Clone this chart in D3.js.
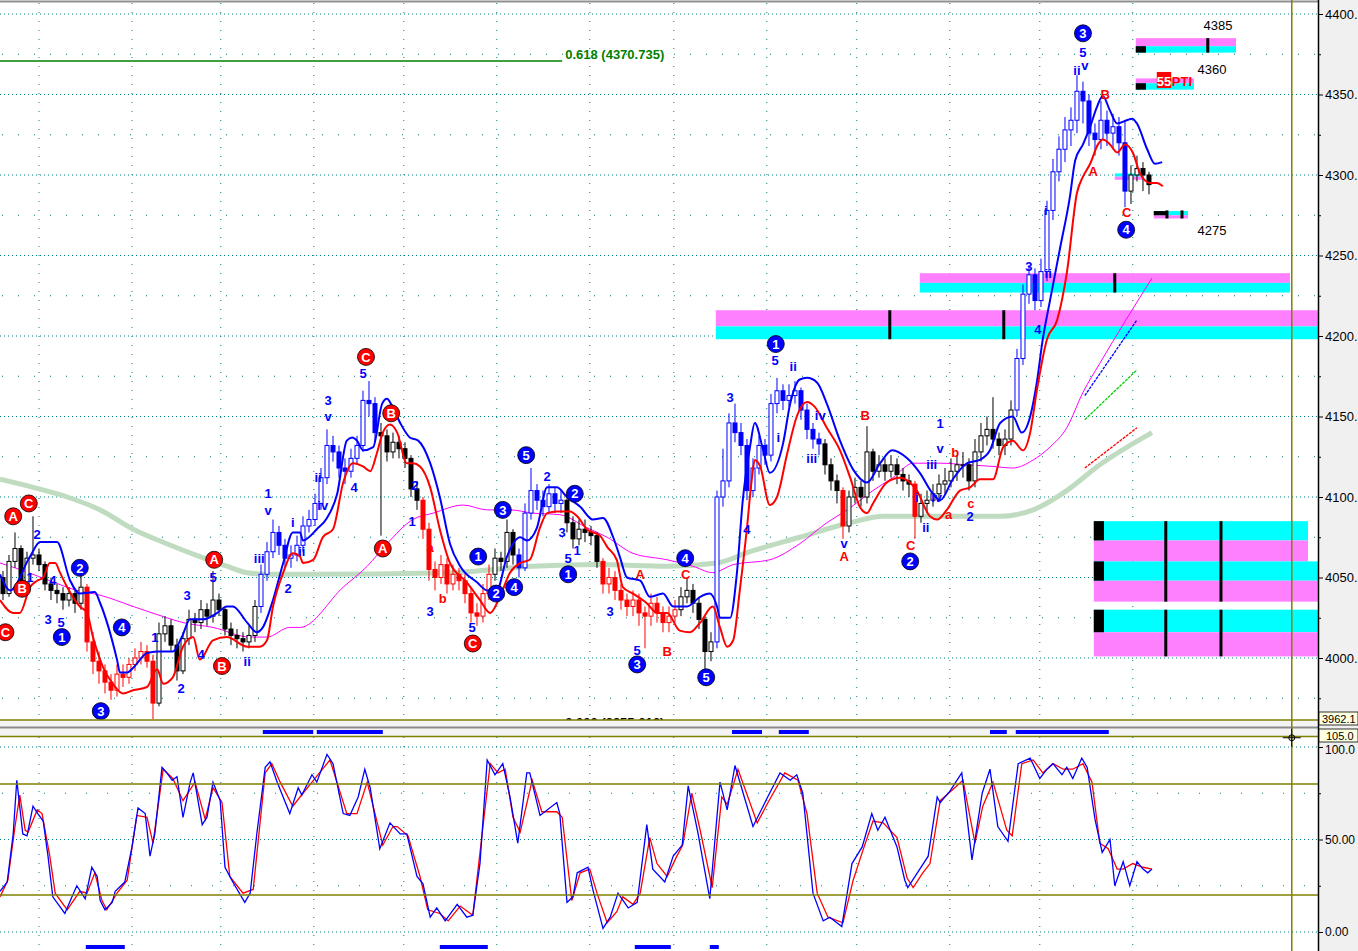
<!DOCTYPE html>
<html>
<head>
<meta charset="UTF-8">
<title>Elliott wave chart</title>
<script src="https://d3js.org/d3.v7.min.js"></script>
<style>
body { margin: 0; background: #fff; }
svg { display: block; font-family: "Liberation Sans", Arial, sans-serif; }
.wave { font-size: 13px; font-weight: bold; }
</style>
</head>
<body>
<svg id="chart" width="1358" height="951"></svg>
<script>

// ---- price bars (one per bar index) ----
const closes = [
 4040,4060,4068,4045,4062,4064,4058,4046,4042,4040,
 4036,4040,4034,4044,4010,3998,3992,3985,3980,3990,
 3988,3996,4000,4004,3998,3972,4015,4020,4008,3992,
 4012,4024,4022,4030,4026,4036,4030,4018,4014,4012,
 4010,4014,4032,4052,4066,4078,4070,4062,4064,4070,
 4082,4086,4096,4112,4132,4128,4118,4116,4124,4132,
 4160,4158,4140,4138,4128,4134,4130,4124,4105,4098,
 4080,4055,4050,4058,4046,4052,4048,4040,4028,4026,
 4040,4052,4062,4060,4078,4064,4056,4090,4104,4098,
 4094,4102,4096,4098,4084,4074,4080,4078,4076,4060,
 4046,4050,4042,4036,4032,4036,4028,4026,4034,4028,
 4022,4026,4030,4038,4042,4034,4024,4004,4010,4100,
 4110,4146,4140,4132,4104,4118,4132,4126,4158,4166,
 4160,4163,4166,4154,4142,4136,4133,4120,4110,4104,
 4082,4100,4106,4100,4128,4116,4120,4116,4120,4114,
 4110,4108,4088,4096,4098,4102,4108,4110,4116,4120,
 4120,4110,4128,4138,4142,4136,4132,4136,4154,4186,
 4226,4238,4222,4240,4278,4302,4316,4328,4334,4352,
 4346,4326,4322,4334,4326,4330,4320,4290,4300,4304,
 4300,4294
];
const opens = [
 4050,4040,4060,4068,4045,4062,4064,4058,4046,4042,
 4040,4036,4040,4034,4044,4010,3998,3992,3985,3980,
 3990,3988,3996,4000,4004,3998,3972,4015,4020,4008,
 3992,4012,4024,4022,4030,4026,4036,4030,4018,4014,
 4012,4010,4014,4032,4052,4066,4078,4070,4062,4064,
 4070,4082,4086,4096,4112,4132,4128,4118,4116,4124,
 4132,4160,4158,4140,4138,4128,4134,4130,4124,4105,
 4098,4080,4055,4050,4058,4046,4052,4048,4040,4028,
 4026,4040,4052,4062,4060,4078,4064,4056,4090,4104,
 4098,4094,4102,4096,4098,4084,4074,4080,4078,4076,
 4060,4046,4050,4042,4036,4032,4036,4028,4026,4034,
 4028,4022,4026,4030,4038,4042,4034,4024,4004,4010,
 4100,4110,4146,4140,4132,4104,4118,4132,4126,4158,
 4166,4160,4163,4166,4154,4142,4136,4133,4120,4110,
 4104,4082,4100,4106,4100,4128,4116,4120,4116,4120,
 4114,4110,4108,4088,4096,4098,4102,4108,4110,4116,
 4120,4120,4110,4128,4138,4142,4136,4132,4136,4154,
 4186,4226,4238,4222,4240,4278,4302,4316,4328,4334,
 4352,4346,4326,4322,4334,4326,4330,4320,4290,4300,
 4304,4300
];
const highs = [
 4054,4064,4078,4070,4066,4088,4068,4060,4050,4046,
 4044,4044,4042,4052,4046,4016,4004,3996,3990,3996,
 3996,4000,4006,4010,4008,4002,4022,4026,4024,4012,
 4016,4030,4028,4036,4034,4054,4040,4032,4022,4018,
 4016,4020,4036,4058,4072,4086,4082,4074,4070,4076,
 4088,4092,4102,4118,4142,4138,4132,4124,4130,4138,
 4166,4172,4162,4146,4142,4140,4138,4134,4126,4110,
 4100,4084,4060,4064,4062,4058,4056,4052,4044,4034,
 4046,4058,4068,4066,4086,4080,4068,4096,4118,4108,
 4104,4108,4106,4104,4100,4088,4086,4086,4082,4078,
 4062,4056,4054,4046,4040,4042,4040,4032,4040,4038,
 4032,4032,4036,4044,4050,4046,4038,4026,4016,4104,
 4130,4152,4158,4146,4136,4124,4138,4136,4164,4174,
 4170,4170,4172,4168,4158,4146,4140,4136,4124,4114,
 4106,4104,4112,4110,4144,4130,4126,4124,4126,4124,
 4118,4114,4110,4102,4104,4108,4114,4118,4124,4126,
 4128,4124,4136,4146,4150,4162,4140,4142,4160,4192,
 4232,4244,4242,4248,4284,4310,4324,4336,4342,4362,
 4358,4350,4332,4346,4340,4338,4336,4334,4306,4312,
 4308,4302
];
const lows = [
 4036,4038,4056,4040,4042,4058,4054,4042,4036,4034,
 4030,4032,4028,4030,4004,3990,3984,3978,3974,3976,
 3982,3984,3992,3996,3994,3962,3970,4010,4004,3986,
 3990,4008,4016,4018,4020,4022,4026,4014,4008,4006,
 4004,4006,4010,4028,4048,4062,4064,4056,4056,4060,
 4066,4078,4082,4092,4108,4122,4112,4108,4112,4120,
 4128,4150,4134,4076,4122,4124,4124,4118,4100,4092,
 4074,4048,4042,4046,4040,4042,4042,4034,4022,4020,
 4022,4036,4048,4054,4056,4058,4050,4054,4086,4092,
 4088,4090,4090,4090,4078,4068,4070,4072,4070,4056,
 4040,4040,4036,4030,4026,4026,4020,4006,4020,4022,
 4016,4016,4022,4026,4034,4028,4018,3990,3998,4006,
 4094,4106,4134,4126,4098,4100,4114,4120,4122,4152,
 4154,4156,4158,4148,4136,4130,4126,4114,4104,4096,
 4074,4078,4096,4094,4096,4110,4112,4110,4112,4108,
 4104,4100,4074,4084,4090,4094,4098,4102,4106,4110,
 4112,4104,4106,4122,4132,4130,4126,4126,4132,4150,
 4182,4220,4216,4218,4234,4272,4296,4308,4318,4326,
 4332,4318,4312,4316,4318,4316,4312,4280,4282,4296,
 4290,4288
];
// wave colouring of the bars: [firstBar, lastBar, colour]; other bars are black
const barColours = [
 [14, 25, "red"], [43, 62, "blue"], [70, 81, "red"], [86, 93, "blue"],
 [100, 112, "red"], [119, 136, "blue"], [140, 140, "red"], [152, 152, "red"],
 [169, 187, "blue"]
];

// ---- overlays: [bar, price] ----
const upperBand = [
 [-0.5,4052],[1.2,4042],[4.5,4063],[6.2,4072],[9,4072],[11.2,4048],[12.8,4040],[15.3,4041],
 [16.2,4034],[19,3999],[19.5,3991],[20.7,3991],[21.7,3994],[24,4003],[25.7,4004],[28.3,4004],
 [29.8,4013],[31.2,4024],[33.3,4024],[35.7,4028],[37.3,4032],[38.3,4032],[40.7,4022],[42.3,4016],
 [43.3,4019],[45,4036],[46.7,4059],[48.3,4078],[49.5,4078],[50,4073],[52.3,4080],[54,4087],
 [55.7,4102],[57.3,4135],[58.2,4137],[59,4135],[60,4129],[61.7,4131],[63.2,4158],[64,4161],
 [64.8,4157],[66.2,4146],[67.8,4137],[69.2,4135],[71.2,4121],[72.8,4100],[74.5,4071],[76.2,4057],
 [79,4047],[80.7,4042],[82.3,4042],[84,4063],[86.2,4075],[87.3,4073],[89,4081],[90.7,4106],
 [92.3,4106],[94,4100],[96.2,4094],[98.3,4086],[100,4087],[101.7,4075],[102.8,4063],[104,4050],
 [106.2,4048],[107.8,4038],[110,4040],[111.7,4032],[114,4032],[116.2,4038],[117.8,4040],[119,4032],
 [119.5,4025],[121.2,4025],[122.3,4052],[123.3,4098],[124.5,4131],[125.3,4146],[126.7,4129],[127.8,4115],
 [130,4133],[131.2,4158],[132.8,4173],[134,4174],[135.7,4171],[137.3,4158],[139.5,4135],[141.7,4117],
 [144,4109],[146.2,4121],[148.2,4129],[150.7,4124],[152.8,4115],[155,4102],[156.2,4098],[158.3,4111],
 [160.7,4121],[162.8,4123],[164.5,4129],[166.2,4146],[168.3,4150],[169.8,4140],[171.2,4150],[172.3,4171],
 [173.3,4198],[174.5,4222],[176.2,4255],[177.8,4286],[178.7,4309],[180,4319],[181.2,4330],[182.3,4342],
 [183.3,4349],[184.5,4340],[185.7,4332],[187.3,4334],[188.2,4335],[189,4332],[190.7,4316],[192,4307],
 [193.2,4308]
];
const lowerBand = [
 [-0.5,4036],[1.7,4028],[2.8,4028],[4.5,4044],[5.7,4048],[6.7,4050],[7.8,4059],[8.7,4059],
 [9.5,4053],[10.7,4044],[12.8,4032],[14,4028],[15,4013],[16.7,3994],[18.3,3984],[20,3978],
 [21.7,3980],[24,3982],[25.7,3993],[26.7,3984],[28.3,3988],[30,4007],[31.7,4013],[32.8,3999],
 [35,4011],[37.3,4013],[40.7,4007],[42.8,4007],[44,4011],[45,4032],[46.7,4053],[48.3,4065],
 [49.5,4063],[50,4059],[51.7,4061],[53.3,4075],[55,4080],[56.7,4109],[58.3,4121],[60,4119],
 [61.2,4116],[62.3,4127],[63.3,4140],[64.5,4145],[65.7,4140],[67.3,4121],[68.3,4121],[69.5,4119],
 [71.2,4106],[72.8,4080],[74.5,4059],[77.3,4047],[79.5,4036],[81.2,4028],[82.8,4038],[84.5,4053],
 [86.2,4059],[87.8,4061],[89.5,4081],[90.7,4090],[92.3,4091],[94.5,4091],[95.7,4088],[97.3,4080],
 [99.5,4076],[100.7,4069],[102.3,4061],[103.3,4044],[105,4040],[107.3,4034],[109,4028],[110.7,4028],
 [112.8,4017],[114.5,4016],[116.2,4022],[118.3,4032],[119.5,4019],[120.7,4007],[121.7,4011],[122.8,4042],
 [124,4081],[124.8,4111],[125.3,4123],[126.2,4119],[127.8,4095],[129,4100],[130.7,4127],[132.3,4150],
 [134,4159],[135.3,4156],[137.3,4143],[139.5,4129],[141.2,4112],[142.8,4094],[144,4090],[145,4096],
 [147.3,4109],[149.5,4112],[152.3,4104],[154.5,4088],[155.7,4086],[157.3,4092],[159.5,4104],[161.2,4106],
 [162.8,4111],[165,4111],[166.7,4131],[168.3,4135],[170,4129],[171.2,4140],[172.3,4166],[174,4198],
 [175.7,4210],[177.3,4239],[179,4289],[180,4299],[181.2,4307],[182.5,4319],[183.3,4322],[184.5,4319],
 [185.7,4314],[187,4319],[188.3,4314],[189.5,4301],[191.2,4295],[192.3,4295],[193.3,4293]
];
const magentaMA = [
 [-0.5,4059],[2.8,4055],[7.8,4048],[12.3,4042],[16.2,4039],[21.7,4032],[27.3,4025],[30,4022],
 [35,4019],[41.2,4013],[44,4013],[47.8,4019],[49.5,4019],[56.7,4044],[60.7,4057],[64,4071],
 [68.3,4086],[71.7,4090],[76.7,4095],[80.7,4092],[84.5,4092],[88.3,4090],[92.8,4089],[97.3,4081],
 [100.7,4075],[105,4065],[110.7,4061],[115,4057],[118.3,4053],[121.7,4058],[127.8,4061],[132.8,4071],
 [137.3,4084],[140.7,4092],[145,4104],[148.3,4112],[151.7,4121],[156.2,4121],[160.7,4120],[165,4119],
 [168.3,4118],[171.7,4123],[174.5,4131],[177.3,4143],[180,4165],[182.8,4183],[191.5,4236]
];
const greenMA = [
 [-0.5,4111],[5,4106],[10.7,4100],[16.2,4092],[21.7,4080],[27.3,4071],[32.8,4063],[37.3,4057],
 [40.7,4053],[44,4052],[49.5,4052],[74.5,4053],[88.3,4057],[99.5,4058],[110.7,4057],[119,4059],
 [124.5,4066],[132.8,4075],[141.2,4084],[146.7,4088],[155,4088],[166.2,4088],[171.7,4092],[177.3,4104],
 [182.8,4120],[191.5,4140]
];
const projBlue = [[180.3,4163],[189,4210]];
const projGreen = [[180.3,4148],[189,4179]];
const projRed = [[180.3,4118],[189,4143]];

// ---- stochastic %K (blue) and %D (red): [bar, value] ----
const stochK = [
 [-0.5,22],[0.7,27],[1.7,53],[2.3,82],[3.3,53],[4,52],[5,68],[5.8,64],[6.7,60],[7.5,41],[8.3,19],
 [10.3,10],[11.5,19],[12.3,25],[13.7,18],[14.8,35],[15.7,30],[16.2,17],[17,12],[18.2,16],[18.7,22],
 [20.3,27],[21.5,46],[22.5,67],[23.7,64],[24.5,41],[25.3,53],[26.5,89],[27.3,86],[28.2,82],[29,84],
 [30,62],[31.2,81],[31.7,86],[33.2,58],[34,62],[35,81],[36.2,71],[37,35],[38.3,27],[40.3,16],
 [41.2,21],[42.3,53],[43.7,89],[44.5,92],[45.7,81],[47.8,64],[49.2,78],[49.8,74],[51.5,85],[52.3,81],
 [54,96],[55,91],[56.7,64],[57.8,63],[59.2,73],[60.3,88],[61.2,78],[62.8,45],[64.5,59],[66.2,53],
 [67.3,53],[69,30],[70,26],[71.2,8],[72.3,13],[73.7,6],[75.7,15],[77.3,8],[78.3,9],[79.5,37],
 [80.7,93],[82,85],[83.3,91],[84.5,73],[85.8,48],[87.3,86],[87.8,86],[89.5,63],[92.3,70],[92.8,64],
 [94,16],[95,19],[95.7,32],[97.5,35],[98.3,23],[100,2],[101.2,8],[102.5,21],[104.2,13],[105.7,16],
 [107.3,58],[108.3,34],[110.3,27],[111.7,41],[113.2,47],[114.2,79],[115.8,54],[117.8,18],[119.5,81],
 [120.7,66],[122,90],[125,57],[127.3,72],[129.5,86],[131.2,82],[132.3,85],[133.3,75],[135,21],
 [136.7,6],[137.8,8],[139.8,3],[141.5,37],[143.2,46],[144.8,64],[145.8,55],[147,62],[149,46],
 [150.3,28],[150.8,24],[152.8,34],[154.2,41],[155.7,73],[156.2,70],[157.8,76],[159.8,86],[161.5,39],
 [163.2,75],[164.5,88],[165.8,57],[167.5,49],[169.2,91],[171.2,94],[172.8,83],[174,88],[175,91],
 [176.5,85],[177.3,89],[178.3,83],[179.8,94],[180.7,89],[182,61],[183.2,43],[184.5,50],[185.3,25],
 [186.7,38],[187.8,25],[189,38],[190,34],[190.8,32],[191.5,34]
];
const stochD = [
 [-0.5,19],[0.8,28],[2,57],[2.8,74],[3.7,55],[4.2,54],[5.7,66],[6.5,64],[7.8,41],[8.7,21],
 [10.7,12],[12.8,22],[14,21],[15.3,32],[16.5,17],[17.3,12],[19,21],[20.7,28],[22.3,63],[24,62],
 [25,48],[26.7,88],[28.3,83],[30,71],[32,81],[33.7,61],[35,78],[36.5,70],[37.8,30],[40,21],
 [41.7,23],[43.7,86],[44.8,91],[46.2,81],[48.3,68],[50,75],[52,83],[54.5,93],[57.3,64],[59,64],
 [60.7,81],[63.3,47],[65,57],[65.7,57],[67.5,52],[69.5,30],[70.8,12],[72.8,10],[74.2,6],[76.2,14],
 [78.3,9],[80,57],[81.2,91],[82.5,86],[83.7,88],[85,62],[86.2,54],[88.2,82],[89.8,65],[92.3,65],
 [93.2,62],[94.8,17],[96.2,32],[97.8,34],[99,21],[100.7,5],[102.3,11],[103.3,19],[105,15],[106.2,21],
 [107.8,51],[109,37],[110.7,30],[112.3,41],[113.3,47],[114.8,75],[116.2,55],[118.2,24],[119.8,73],
 [120.7,69],[122.5,88],[125.7,59],[127.5,70],[130.3,86],[132.5,82],[134,64],[135.7,21],[137.5,8],
 [140,5],[141.7,28],[143.3,44],[145,60],[146.7,59],[149,51],[150.7,29],[151.7,24],[153.3,32],
 [154.5,37],[156.2,71],[158.3,77],[160,82],[162,48],[163.3,68],[165,81],[167.3,55],[168.2,52],
 [169.8,91],[171.7,93],[173.3,86],[175,91],[176.7,88],[178.3,88],[180,91],[181.5,81],[182.8,48],
 [184.2,45],[185.7,34],[186.7,34],[188.3,37],[190,35],[191.5,34]
];
// blue signal strips: [fromBar, toBar]
const signalTop = [[43.3,51.7],[52.3,63.3],[121.5,126.5],[129.3,134.3],[164.5,167.3],[168.8,184.3]];
const signalBottom = [[13.8,20.3],[72.8,80.8],[105.3,111.3],[117.8,119.3]];

// ---- target zones: [fromBar, toBar, topPrice, bottomPrice, fill] ----
const zoneRects = [
 [152.8,214.5,4239,4233,"#ff80ff"],[152.8,214.5,4233,4227,"#00ffff"],
 [118.8,219.2,4216,4206,"#ff80ff"],[118.8,219.2,4206,4198,"#00ffff"],
 [181.8,217.5,4085,4073,"#00ffff"],[181.8,217.5,4073,4060,"#ff80ff"],
 [181.8,219.2,4060,4048,"#00ffff"],[181.8,219.2,4048,4035,"#ff80ff"],
 [181.8,219.2,4030,4016,"#00ffff"],[181.8,219.2,4016,4001,"#ff80ff"],
 [188.8,205.5,4385,4380,"#ff80ff"],[188.8,205.5,4380,4376,"#00ffff"],
 [188.8,198.5,4360,4357,"#ff80ff"],[188.8,198.5,4357,4353,"#00ffff"],
 [191.8,197.5,4277.6,4275,"#00ffff"],[191.8,197.5,4275,4273,"#ff80ff"],
 [185.3,190,4301,4299,"#00ffff"],[185.3,190,4299,4297,"#ff80ff"]
];
const zoneBlocks = [
 [181.8,183.5,4085,4073],[181.8,183.5,4060,4048],[181.8,183.5,4030,4016],
 [188.8,190.5,4380,4376],[188.8,190.5,4357,4353],[191.8,194,4277.6,4275]
];
// [bar, topPrice, bottomPrice]
const zoneTicks = [
 [185.3,4239,4227],[147.8,4216,4198],[166.8,4216,4198],
 [193.8,4085,4035],[203,4085,4035],[193.8,4030,4001],[203,4030,4001],
 [200.8,4385,4376],[194,4278,4273],[196.5,4278,4273]
];
// [bar, price, text]
const zoneLabels = [[202.5,4390,"4385"],[201.5,4363,"4360"],[201.5,4263,"4275"]];

// ---- wave labels: [bar, price, text] ----
const redCircles = [
 [0.4,4016,"C"],[3.2,4043,"B"],[1.7,4088,"A"],[4.3,4096,"C"],[35.2,4061,"A"],[36.5,3995,"B"],
 [60.5,4187,"C"],[64.7,4152,"B"],[63.3,4068,"A"],[78.3,4009,"C"]
];
const blueCircles = [
 [9.8,4013,"1"],[12.8,4056,"2"],[16.3,3967,"3"],[19.8,4019,"4"],[24.7,3955,"5"],
 [79.2,4063,"1"],[82.2,4040,"2"],[83.3,4092,"3"],[85.2,4044,"4"],[87.2,4126,"5"],
 [95.3,4102,"2"],[94.2,4052,"1"],[105.7,3996,"3"],[113.7,4062,"4"],[117.2,3988,"5"],
 [128.8,4195,"1"],[151.2,4060,"2"],[180,4388,"3"],[187.2,4266,"4"]
];
const blueTexts = [
 [5.7,4077,"2"],[4.5,4050,"1"],[7.5,4024,"3"],[9.7,4022,"5"],[8.3,4048,"4"],[25.3,4013,"1"],
 [29.7,3981,"2"],[30.7,4039,"3"],[35,4050,"5"],[33,4002,"4"],[40.7,3998,"ii"],[42.7,4062,"iii"],
 [44.2,4092,"v"],[44.2,4102,"1"],[47.5,4043,"2"],[48.3,4084,"i"],[49.8,4066,"ii"],[52.5,4112,"ii"],
 [53.3,4095,"iv"],[54.2,4160,"3"],[54.2,4150,"v"],[58.5,4106,"4"],[60,4177,"5"],[68.7,4107,"2"],
 [68.2,4085,"1"],[71.2,4029,"3"],[78.2,4019,"5"],[90.7,4113,"2"],[93.2,4078,"3"],[94.2,4062,"5"],
 [95.7,4067,"1"],[101.2,4029,"3"],[105.7,4005,"5"],[121.2,4162,"3"],[124,4080,"4"],[128.7,4185,"5"],
 [129.2,4137,"i"],[131.7,4181,"ii"],[136.2,4151,"iv"],[134.8,4124,"iii"],[140.2,4071,"v"],
 [156.2,4146,"1"],[156.2,4130,"v"],[154.8,4120,"iii"],[155.6,4100,"iv"],[152.3,4100,"i"],
 [153.8,4081,"ii"],[161.2,4088,"2"],[171,4243,"3"],[174.2,4239,"ii"],[172.5,4204,"4"],
 [173.8,4278,"i"],[180,4376,"5"],[179,4365,"ii"],[180.3,4368,"v"]
];
const redTexts = [
 [71.2,4069,"a"],[73.3,4037,"b"],[106.2,4052,"A"],[110.7,4004,"B"],[113.8,4052,"C"],[140.2,4063,"A"],
 [143.7,4151,"B"],[151.3,4070,"C"],[158.7,4128,"b"],[161.3,4096,"c"],[157.6,4089,"a"],
 [183.7,4350,"B"],[181.7,4302,"A"],[187.3,4277,"C"]
];

// ---- axis / grid ----
const priceTicks = [4000, 4050, 4100, 4150, 4200, 4250, 4300, 4350, 4400];
const priceMinor = [3975, 4025, 4075, 4125, 4175, 4225, 4275, 4325, 4375];
const stochTicks = [0, 50, 100];
const stochMinor = [25, 75];
const stochLabels = {0: "0.00", 50: "50.00", 100: "100.0"};
const timeGrid = [6, 21.5, 36.3, 51.8, 66.8, 82.3, 97.8, 111.8, 127.3, 142.3, 157.8, 172.8, 188.3];
const fibLevels = [[4370.735, "0.618 (4370.735)", "#008000"], [3955.616, "0.000 (3955.616)", "#000"]];
const lastPrice = "3962.1";
const cursorBar = 214.8, cursorValue = 105.0;

// ================= drawing =================
const W = 1358, H = 951, plotRight = 1318;
const mainTop = 3, mainBottom = 720, lowTop = 737;

const x = d3.scaleLinear().domain([-0.5, 219.17]).range([0, plotRight]);
const y = d3.scaleLinear().domain([4000, 4400]).range([658, 14]);
const ys = d3.scaleLinear().domain([0, 100]).range([932, 747]);

const svg = d3.select("#chart");
const defs = svg.append("defs");
defs.append("clipPath").attr("id", "clipMain").append("rect")
    .attr("x", 0).attr("y", mainTop).attr("width", plotRight).attr("height", mainBottom - mainTop + 2);
defs.append("clipPath").attr("id", "clipLow").append("rect")
    .attr("x", 0).attr("y", lowTop).attr("width", plotRight).attr("height", H - lowTop);

svg.append("rect").attr("width", W).attr("height", H).attr("fill", "#fff");
svg.append("rect").attr("x", plotRight).attr("width", W - plotRight).attr("height", H).attr("fill", "#f0f0f0");

const main = svg.append("g").attr("clip-path", "url(#clipMain)");
const low = svg.append("g").attr("clip-path", "url(#clipLow)");

// grid
const teal = "#008080";
main.selectAll("line.hg").data(priceTicks).enter().append("line")
    .attr("x1", 0).attr("x2", plotRight).attr("y1", d => y(d)).attr("y2", d => y(d))
    .attr("stroke", teal).attr("stroke-dasharray", "1,3");
main.selectAll("line.hm").data(priceMinor).enter().append("line")
    .attr("x1", 2).attr("x2", plotRight).attr("y1", d => y(d)).attr("y2", d => y(d))
    .attr("stroke", teal).attr("stroke-dasharray", "1,15");
main.selectAll("line.vg").data(timeGrid).enter().append("line")
    .attr("x1", d => x(d)).attr("x2", d => x(d)).attr("y1", mainTop).attr("y2", mainBottom)
    .attr("stroke", teal).attr("stroke-dasharray", "1,8");
low.selectAll("line.hg").data(stochTicks).enter().append("line")
    .attr("x1", 0).attr("x2", plotRight).attr("y1", d => ys(d)).attr("y2", d => ys(d))
    .attr("stroke", teal).attr("stroke-dasharray", "1,3");
low.selectAll("line.hm").data(stochMinor).enter().append("line")
    .attr("x1", 2).attr("x2", plotRight).attr("y1", d => ys(d)).attr("y2", d => ys(d))
    .attr("stroke", teal).attr("stroke-dasharray", "1,20");
low.selectAll("line.vg").data(timeGrid).enter().append("line")
    .attr("x1", d => x(d)).attr("x2", d => x(d)).attr("y1", lowTop).attr("y2", H)
    .attr("stroke", teal).attr("stroke-dasharray", "1,8");

// zones
main.selectAll("rect.zone").data(zoneRects).enter().append("rect")
    .attr("x", d => x(d[0])).attr("width", d => x(d[1]) - x(d[0]))
    .attr("y", d => y(d[2])).attr("height", d => y(d[3]) - y(d[2]))
    .attr("fill", d => d[4]);
main.selectAll("rect.block").data(zoneBlocks).enter().append("rect")
    .attr("x", d => x(d[0])).attr("width", d => x(d[1]) - x(d[0]))
    .attr("y", d => y(d[2])).attr("height", d => y(d[3]) - y(d[2]))
    .attr("fill", "#000");
main.selectAll("line.ztick").data(zoneTicks).enter().append("line")
    .attr("x1", d => x(d[0])).attr("x2", d => x(d[0]))
    .attr("y1", d => y(d[1])).attr("y2", d => y(d[2]))
    .attr("stroke", "#000").attr("stroke-width", 3);
main.selectAll("text.zl").data(zoneLabels).enter().append("text")
    .attr("x", d => x(d[0])).attr("y", d => y(d[1]))
    .attr("text-anchor", "middle").attr("font-size", 13).attr("fill", "#000")
    .text(d => d[2]);
// "55 PTI" tag
main.append("rect").attr("x", x(192.3)).attr("width", x(194.7) - x(192.3))
    .attr("y", y(4364)).attr("height", y(4354) - y(4364)).attr("fill", "#ff0000");
main.append("text").attr("x", x(193.5)).attr("y", y(4355.5)).attr("text-anchor", "middle")
    .attr("font-size", 13).attr("font-weight", "bold").attr("fill", "#fff").text("55");
main.append("text").attr("x", x(194.8)).attr("y", y(4355.5))
    .attr("font-size", 13).attr("font-weight", "bold").attr("fill", "#ff0000").text("PTI");

// fibonacci levels
main.append("line").attr("x1", 0).attr("x2", x(93.2))
    .attr("y1", y(fibLevels[0][0])).attr("y2", y(fibLevels[0][0]))
    .attr("stroke", "#008000").attr("stroke-width", 1.5);
main.selectAll("text.fib").data(fibLevels).enter().append("text")
    .attr("x", x(93.7)).attr("y", d => y(d[0]) - 2)
    .attr("font-family", "'Liberation Sans Narrow', 'Liberation Sans', sans-serif")
    .attr("font-size", 13).attr("font-weight", "bold").attr("fill", d => d[2])
    .text(d => d[1]);

// moving averages
const line = d3.line().x(d => x(d[0])).y(d => y(d[1])).curve(d3.curveMonotoneX);
main.append("path").attr("d", line(greenMA)).attr("fill", "none")
    .attr("stroke", "#c0dcc0").attr("stroke-width", 5);
main.append("path").attr("d", line(magentaMA)).attr("fill", "none")
    .attr("stroke", "#ff00ff").attr("stroke-width", 1);
[[projBlue, "#0000ff"], [projGreen, "#00d000"], [projRed, "#ff0000"]].forEach(p => {
    main.append("path").attr("d", d3.line().x(d => x(d[0])).y(d => y(d[1]))(p[0]))
        .attr("fill", "none").attr("stroke", p[1]).attr("stroke-width", 1.3)
        .attr("stroke-dasharray", "3,1");
});

// candles
const colourOf = i => {
    const r = barColours.find(c => i >= c[0] && i <= c[1]);
    return r ? (r[2] === "red" ? "#ff0000" : "#0000ff") : "#000";
};
const bars = closes.map((c, i) => ({i, o: opens[i], c, h: highs[i], l: lows[i], col: colourOf(i)}));
const cg = main.append("g");
cg.selectAll("line.wick").data(bars).enter().append("line")
    .attr("x1", d => x(d.i)).attr("x2", d => x(d.i))
    .attr("y1", d => y(d.h)).attr("y2", d => y(d.l))
    .attr("stroke", d => d.col).attr("stroke-width", 1);
cg.selectAll("rect.body").data(bars).enter().append("rect")
    .attr("x", d => x(d.i) - 2).attr("width", 4)
    .attr("y", d => y(Math.max(d.o, d.c)))
    .attr("height", d => Math.max(1, y(Math.min(d.o, d.c)) - y(Math.max(d.o, d.c))))
    .attr("fill", d => d.c >= d.o ? "#fff" : d.col)
    .attr("stroke", d => d.col).attr("stroke-width", 1);

// bands
main.append("path").attr("d", line(upperBand)).attr("fill", "none")
    .attr("stroke", "#0000ff").attr("stroke-width", 2);
main.append("path").attr("d", line(lowerBand)).attr("fill", "none")
    .attr("stroke", "#ff0000").attr("stroke-width", 2);

// wave labels
function circles(data, fill) {
    const g = main.selectAll(null).data(data).enter().append("g")
        .attr("transform", d => `translate(${x(d[0])},${y(d[1])})`);
    g.append("circle").attr("r", 8.5).attr("fill", fill).attr("stroke", "#000").attr("stroke-width", 0.8);
    g.append("text").attr("text-anchor", "middle").attr("dy", "0.36em")
        .attr("class", "wave").attr("fill", "#fff").text(d => d[2]);
}
function texts(data, fill) {
    main.selectAll(null).data(data).enter().append("text")
        .attr("x", d => x(d[0])).attr("y", d => y(d[1])).attr("dy", "0.36em")
        .attr("text-anchor", "middle").attr("class", "wave").attr("fill", fill)
        .text(d => d[2]);
}
texts(blueTexts, "#0000ff");
texts(redTexts, "#ff0000");
circles(redCircles, "#ff0000");
circles(blueCircles, "#0000ff");

// stochastic panel
[80, 20].forEach(v => {
    svg.append("line").attr("x1", 0).attr("x2", plotRight).attr("y1", ys(v)).attr("y2", ys(v))
        .attr("stroke", "#808000").attr("stroke-width", 1.5);
});
const sline = d3.line().x(d => x(d[0])).y(d => ys(d[1]));
low.append("path").attr("d", sline(stochD)).attr("fill", "none")
    .attr("stroke", "#ff0000").attr("stroke-width", 1.3);
low.append("path").attr("d", sline(stochK)).attr("fill", "none")
    .attr("stroke", "#0000ff").attr("stroke-width", 1.3);
low.selectAll("rect.sig").data(signalBottom).enter().append("rect")
    .attr("x", d => x(d[0])).attr("width", d => x(d[1]) - x(d[0]))
    .attr("y", 945).attr("height", 4).attr("fill", "#0000ff");

// panel separators
svg.append("line").attr("x1", 0).attr("x2", plotRight).attr("y1", 1.5).attr("y2", 1.5)
    .attr("stroke", "#909090").attr("stroke-width", 2);
svg.append("rect").attr("x", 0).attr("y", mainBottom).attr("width", plotRight).attr("height", lowTop - mainBottom)
    .attr("fill", "#f4f4f4");
svg.append("line").attr("x1", 0).attr("x2", plotRight).attr("y1", 727.5).attr("y2", 727.5)
    .attr("stroke", "#8c8c8c").attr("stroke-width", 2);
[mainBottom, lowTop - 0.5].forEach(v => {
    svg.append("line").attr("x1", 0).attr("x2", plotRight).attr("y1", v).attr("y2", v)
        .attr("stroke", "#808000").attr("stroke-width", 1.5);
});
svg.selectAll("rect.sigtop").data(signalTop).enter().append("rect")
    .attr("x", d => x(d[0])).attr("width", d => x(d[1]) - x(d[0]))
    .attr("y", 730).attr("height", 4).attr("fill", "#0000ff");

// cursor
const cx = x(cursorBar), cy = ys(cursorValue);
svg.append("line").attr("x1", cx).attr("x2", cx).attr("y1", 0).attr("y2", H)
    .attr("stroke", "#808000").attr("stroke-width", 1.5);
svg.append("line").attr("x1", cx - 9).attr("x2", cx + 9).attr("y1", cy).attr("y2", cy).attr("stroke", "#000");
svg.append("line").attr("x1", cx).attr("x2", cx).attr("y1", cy - 9).attr("y2", cy + 9).attr("stroke", "#000");
svg.append("circle").attr("cx", cx).attr("cy", cy).attr("r", 3).attr("fill", "none").attr("stroke", "#000");

// right axes
const axFont = g => g.selectAll("text").attr("font-size", 13).attr("fill", "#000")
    .attr("font-family", "'Liberation Sans', Arial, sans-serif");
svg.append("g").attr("transform", `translate(${plotRight},0)`)
    .call(d3.axisRight(y).tickValues(priceTicks).tickSize(5).tickPadding(2).tickFormat(d => d + "."))
    .call(g => g.select(".domain").remove()).call(axFont);
svg.append("g").attr("transform", `translate(${plotRight},0)`)
    .call(d3.axisRight(y).tickValues(priceMinor).tickSize(3).tickFormat(""))
    .call(g => g.select(".domain").remove());
svg.append("g").attr("transform", `translate(${plotRight},0)`)
    .call(d3.axisRight(ys).tickValues(stochTicks).tickSize(5).tickPadding(2).tickFormat(d => stochLabels[d]))
    .call(g => g.select(".domain").remove()).call(axFont)
    .call(g => g.selectAll("text").attr("font-size", 12).attr("dy", d => d === 100 ? "0.55em" : "0.32em"));
svg.append("g").attr("transform", `translate(${plotRight},0)`)
    .call(d3.axisRight(ys).tickValues(stochMinor).tickSize(3).tickFormat(""))
    .call(g => g.select(".domain").remove());
svg.append("line").attr("x1", plotRight + 0.5).attr("x2", plotRight + 0.5).attr("y1", 0).attr("y2", H)
    .attr("stroke", "#000").attr("stroke-width", 1.5);

// value boxes
svg.append("rect").attr("x", plotRight + 1).attr("y", 712).attr("width", 39).attr("height", 13)
    .attr("fill", "#ffffe1").attr("stroke", "#000").attr("stroke-width", 0.8);
svg.append("text").attr("x", plotRight + 4).attr("y", 723).attr("font-size", 11).text(lastPrice);
svg.append("rect").attr("x", plotRight + 1).attr("y", 729).attr("width", 39).attr("height", 13)
    .attr("fill", "#ffffe1").attr("stroke", "#000").attr("stroke-width", 0.8);
svg.append("text").attr("x", plotRight + 8).attr("y", 740).attr("font-size", 11).text(cursorValue.toFixed(1));

</script>
</body>
</html>
